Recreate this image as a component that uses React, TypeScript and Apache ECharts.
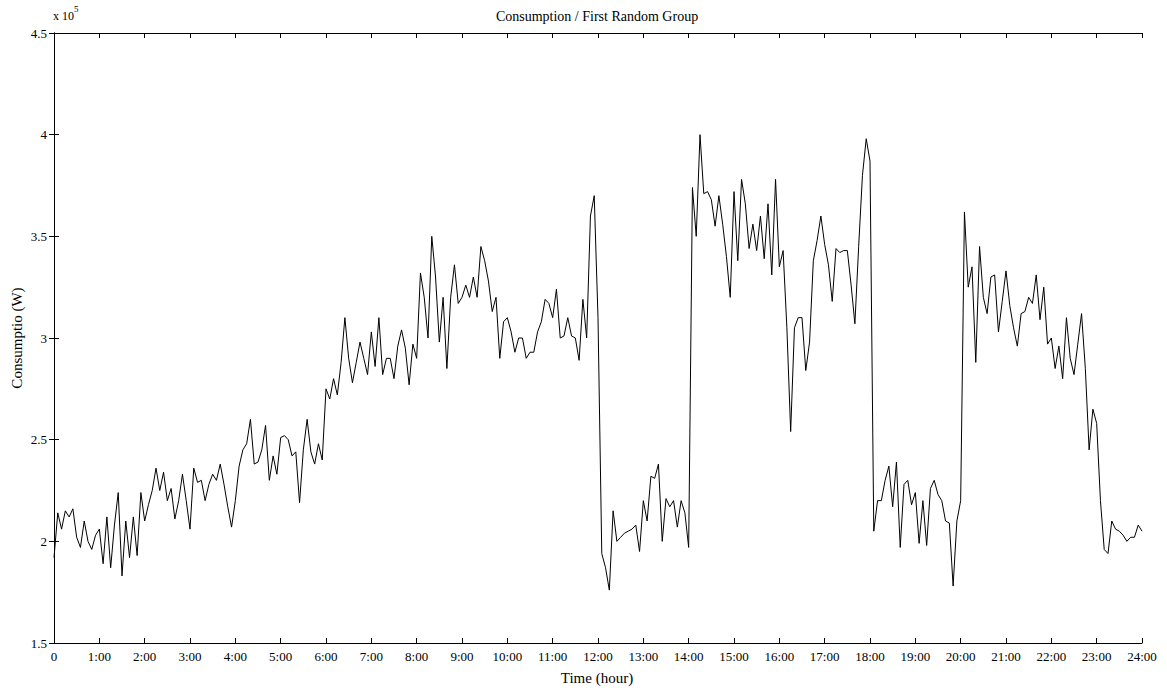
import React, { useEffect, useRef } from "react";
import * as echarts from "echarts";

// Consumption in units of 10^5 W, sampled every 5 minutes, one array per two-hour block.
const load00 = [1.92, 2.14, 2.06, 2.15, 2.12, 2.16, 2.02, 1.97, 2.10, 2.00, 1.96, 2.03, 2.06, 1.89, 2.12, 1.87, 2.08, 2.24, 1.83, 2.10, 1.92, 2.12, 1.93, 2.24];
const load02 = [2.10, 2.18, 2.25, 2.36, 2.25, 2.34, 2.20, 2.26, 2.11, 2.20, 2.33, 2.20, 2.06, 2.36, 2.29, 2.30, 2.20, 2.28, 2.33, 2.30, 2.38, 2.28, 2.17, 2.07];
const load04 = [2.20, 2.37, 2.45, 2.48, 2.60, 2.38, 2.39, 2.45, 2.57, 2.30, 2.42, 2.33, 2.51, 2.52, 2.50, 2.42, 2.44, 2.19, 2.45, 2.60, 2.44, 2.38, 2.48, 2.40];
const load06 = [2.75, 2.70, 2.80, 2.72, 2.88, 3.10, 2.90, 2.78, 2.88, 2.98, 2.90, 2.82, 3.03, 2.86, 3.10, 2.82, 2.90, 2.90, 2.80, 2.96, 3.04, 2.95, 2.77, 2.97];
const load08 = [2.90, 3.32, 3.20, 3.00, 3.50, 3.30, 2.98, 3.20, 2.85, 3.20, 3.36, 3.17, 3.20, 3.26, 3.20, 3.30, 3.20, 3.45, 3.38, 3.28, 3.13, 3.20, 2.90, 3.08];
const load10 = [3.10, 3.03, 2.93, 3.00, 3.00, 2.90, 2.93, 2.93, 3.03, 3.08, 3.19, 3.17, 3.10, 3.24, 3.00, 3.01, 3.10, 3.01, 3.00, 2.89, 3.19, 3.00, 3.60, 3.70];
const load12 = [3.10, 1.94, 1.87, 1.76, 2.15, 2.00, 2.02, 2.04, 2.05, 2.06, 2.08, 1.95, 2.20, 2.10, 2.32, 2.31, 2.38, 2.00, 2.21, 2.17, 2.20, 2.07, 2.20, 2.14];
const load14 = [1.97, 3.74, 3.50, 4.00, 3.71, 3.72, 3.68, 3.55, 3.70, 3.56, 3.40, 3.20, 3.72, 3.38, 3.78, 3.66, 3.44, 3.56, 3.43, 3.60, 3.39, 3.66, 3.31, 3.78];
const load16 = [3.35, 3.43, 3.05, 2.54, 3.05, 3.10, 3.10, 2.84, 2.98, 3.38, 3.48, 3.60, 3.46, 3.36, 3.18, 3.44, 3.42, 3.43, 3.43, 3.26, 3.07, 3.45, 3.80, 3.98];
const load18 = [3.87, 2.05, 2.20, 2.20, 2.30, 2.37, 2.17, 2.39, 1.97, 2.28, 2.30, 2.18, 2.24, 1.99, 2.20, 1.98, 2.26, 2.30, 2.23, 2.20, 2.10, 2.09, 1.78, 2.10];
const load20 = [2.20, 3.62, 3.25, 3.35, 2.88, 3.45, 3.20, 3.12, 3.30, 3.31, 3.03, 3.18, 3.33, 3.16, 3.05, 2.96, 3.12, 3.13, 3.20, 3.17, 3.31, 3.09, 3.25, 2.97];
const load22 = [3.00, 2.85, 2.96, 2.80, 3.10, 2.90, 2.82, 2.97, 3.12, 2.85, 2.45, 2.65, 2.58, 2.20, 1.96, 1.94, 2.10, 2.06, 2.05, 2.03, 2.00, 2.02, 2.02, 2.08, 2.05];

const STEP_MIN = 5;
const hourTicks = Array.from({ length: 25 }, (_, h) => (h === 0 ? "0" : `${h}:00`));

const FONT = "'Liberation Serif', 'Times New Roman', serif";

export default function App() {
  const ref = useRef<HTMLDivElement>(null);

  useEffect(() => {
    if (!ref.current) return;
    const chart = echarts.init(ref.current, undefined, { renderer: "svg" });

    const all = [
      ...load00, ...load02, ...load04, ...load06, ...load08, ...load10,
      ...load12, ...load14, ...load16, ...load18, ...load20, ...load22,
    ];
    const data = all.map((v, i) => [i * STEP_MIN, v]);

    const axisLine = { show: true, lineStyle: { color: "#000", width: 1 } };
    const tick = { show: true, inside: true, length: 5, lineStyle: { color: "#000", width: 1 } };

    chart.setOption({
      animation: false,
      backgroundColor: "#fff",
      grid: { left: 54, right: 25, top: 33, bottom: 50, containLabel: false },
      xAxis: [
        {
          type: "value", min: 0, max: 1440, interval: 60, position: "bottom",
          axisLine, axisTick: tick, splitLine: { show: false },
          axisLabel: {
            color: "#000", fontFamily: FONT, fontSize: 13, margin: 7,
            formatter: (v: number) => hourTicks[Math.round(v / 60)],
          },
        },
        {
          type: "value", min: 0, max: 1440, interval: 60, position: "top",
          axisLine, axisTick: tick, splitLine: { show: false }, axisLabel: { show: false },
        },
      ],
      yAxis: [
        {
          type: "value", min: 1.5, max: 4.5, interval: 0.5, position: "left",
          axisLine, axisTick: tick, splitLine: { show: false },
          axisLabel: { color: "#000", fontFamily: FONT, fontSize: 13, margin: 7 },
        },
        {
          type: "value", min: 1.5, max: 4.5, interval: 0.5, position: "right",
          axisLine, axisTick: tick, splitLine: { show: false }, axisLabel: { show: false },
        },
      ],
      series: [
        {
          type: "line", data, showSymbol: false, symbol: "none",
          lineStyle: { color: "#000", width: 1 }, xAxisIndex: 0, yAxisIndex: 0,
        },
      ],
      graphic: [
        {
          type: "text", x: 597, y: 16,
          style: { text: "Consumption / First Random Group", font: `14px ${FONT}`, fill: "#000", align: "center", verticalAlign: "middle" },
        },
        {
          type: "text", x: 597, y: 678,
          style: { text: "Time (hour)", font: `15px ${FONT}`, fill: "#000", align: "center", verticalAlign: "middle" },
        },
        {
          type: "text", x: 17, y: 338, rotation: Math.PI / 2,
          style: { text: "Consumptio (W)", font: `15px ${FONT}`, fill: "#000", align: "center", verticalAlign: "middle" },
        },
        {
          type: "text", x: 53, y: 13,
          style: {
            text: "{a|x 10}{b|5}", fill: "#000", verticalAlign: "middle",
            rich: {
              a: { fontFamily: FONT, fontSize: 12, fill: "#000", verticalAlign: "bottom", padding: [6, 0, 0, 0] },
              b: { fontFamily: FONT, fontSize: 9, fill: "#000", verticalAlign: "top" },
            },
          },
        },
      ],
    });

    return () => chart.dispose();
  }, []);

  return <div ref={ref} style={{ position: "fixed", left: 0, top: 0, width: 1167, height: 693 }} />;
}
